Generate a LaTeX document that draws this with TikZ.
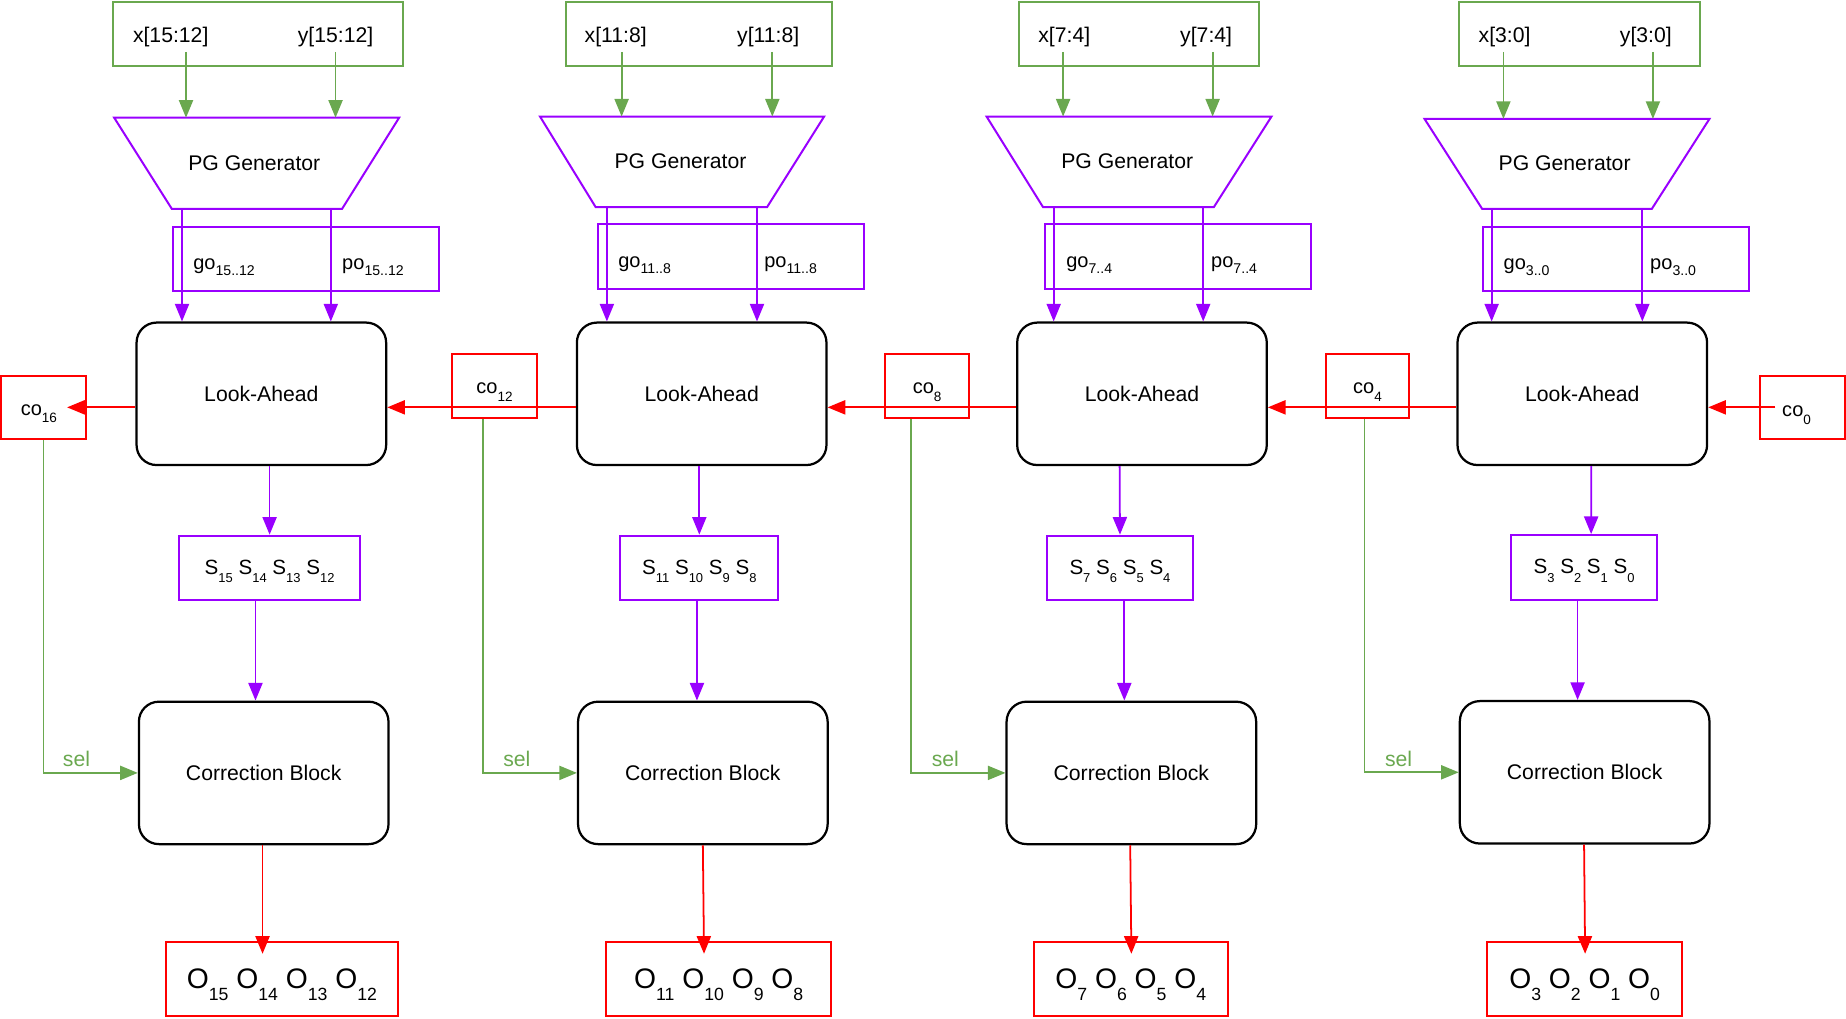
\documentclass[tikz,border=0pt]{standalone}
\usepackage{fontspec}
\setmainfont{Liberation Sans}
\usetikzlibrary{arrows.meta,calc}
\definecolor{grn}{RGB}{106,168,79}
\definecolor{pur}{RGB}{153,0,255}
\definecolor{rd}{RGB}{255,0,0}
\newcommand{\mysub}[3]{\raisebox{-#2pt}{\fontsize{#3}{#3}\selectfont #1}}
\newcommand{\Sv}[1]{S\mysub{#1}{7}{11}}
\newcommand{\Ov}[1]{O\mysub{#1}{9.5}{15}}
\newcommand{\cov}[1]{co\mysub{#1}{6.5}{11.5}}
\newcommand{\gpv}[2]{#1\mysub{#2}{5}{12}}
\begin{document}
\begin{tikzpicture}[x=1pt,y=-1pt,
  every node/.style={font=\fontsize{18}{21}\selectfont, inner sep=0pt},
  inbox/.style={draw=grn, line width=1.6pt, minimum width=#1, minimum height=54pt},
  trap/.style={draw=pur, line width=1.7pt},
  gpbox/.style={draw=pur, line width=1.7pt, minimum width=226pt, minimum height=#1},
  labox/.style={draw=black, line width=1.9pt, rounded corners=17pt, minimum width=212pt, minimum height=121pt, text height=13pt, text depth=0pt},
  sbox/.style={draw=pur, line width=1.7pt, minimum width=#1, minimum height=55pt, text height=11pt, text depth=0pt, font=\fontsize{17.5}{20}\selectfont},
  obox/.style={draw=rd, line width=1.7pt, minimum width=#1, minimum height=63pt, text height=17pt, text depth=0pt, font=\fontsize{24}{28}\selectfont},
  cobox/.style={draw=rd, line width=1.7pt, minimum width=72pt, minimum height=54pt, text height=13pt, text depth=0pt, font=\fontsize{17}{20}\selectfont},
  lbl/.style={anchor=base},
  gplbl/.style={anchor=base west, font=\fontsize{17}{20}\selectfont},
  sellbl/.style={anchor=base, text=grn},
  garr/.style={draw=grn, line width=1.5pt, -{Triangle[length=15pt,width=12pt]}},
  parr/.style={draw=pur, line width=1.5pt, -{Triangle[length=15pt,width=12pt]}},
  rarr/.style={draw=rd, line width=1.5pt, -{Triangle[length=15pt,width=12pt]}}
]
\useasboundingbox (0,0) rectangle (1568,865);

% ---------------- column 1 ----------------
\node[inbox=246pt] (in1) at (219,29) {};
\node[lbl] (xl1) at (145,36) {x[15:12]};
\node[lbl] (yl1) at (285,36) {y[15:12]};
\draw[trap] (97,100) -- (339,100) -- (290.5,177.5) -- (146,177.5) -- cycle;
\coordinate (pg1t) at (218,100);
\coordinate (pg1b) at (218,177.5);
\node[lbl] (pg1) at (216,144.5) {PG Generator};
\node[gpbox=54pt] (gp1) at (260,220) {};
\node[gplbl] (go1) at (164,229) {\gpv{go}{15..12}};
\node[gplbl] (po1) at (290.5,229) {\gpv{po}{15..12}};
\node[labox] (la1) at (222,334.5) {Look-Ahead};
\node[sbox=154pt] (s1) at (229,482.5) {\Sv{15} \Sv{14} \Sv{13} \Sv{12}};
\node[labox] (cb1) at (224,656.5) {Correction Block};
\node[obox=197pt] (o1) at (239.5,831.5) {\Ov{15} \Ov{14} \Ov{13} \Ov{12}};

% ---------------- column 2 ----------------
\node[inbox=226pt] (in2) at (594,29) {};
\node[lbl] (xl2) at (523,36) {x[11:8]};
\node[lbl] (yl2) at (652.5,36) {y[11:8]};
\draw[trap] (458.7,99) -- (700,99) -- (651.5,176) -- (506,176) -- cycle;
\coordinate (pg2t) at (579,99);
\coordinate (pg2b) at (579,176);
\node[lbl] (pg2) at (578,143.5) {PG Generator};
\node[gpbox=55pt] (gp2) at (621,218) {};
\node[gplbl] (go2) at (525,227) {\gpv{go}{11..8}};
\node[gplbl] (po2) at (649,227) {\gpv{po}{11..8}};
\node[labox] (la2) at (596,334.5) {Look-Ahead};
\node[sbox=134pt] (s2) at (594,482.5) {\Sv{11} \Sv{10} \Sv{9} \Sv{8}};
\node[labox] (cb2) at (597,656.5) {Correction Block};
\node[obox=191pt] (o2) at (610.5,831.5) {\Ov{11} \Ov{10} \Ov{9} \Ov{8}};

% ---------------- column 3 ----------------
\node[inbox=204pt] (in3) at (967.5,29) {};
\node[lbl] (xl3) at (904,36) {x[7:4]};
\node[lbl] (yl3) at (1024.5,36) {y[7:4]};
\draw[trap] (838,99) -- (1080,99) -- (1031,176) -- (886,176) -- cycle;
\coordinate (pg3t) at (959,99);
\coordinate (pg3b) at (959,176);
\node[lbl] (pg3) at (957.5,143.5) {PG Generator};
\node[gpbox=55pt] (gp3) at (1000.6,218) {};
\node[gplbl] (go3) at (905.5,227) {\gpv{go}{7..4}};
\node[gplbl] (po3) at (1028.6,227) {\gpv{po}{7..4}};
\node[labox] (la3) at (970,334.5) {Look-Ahead};
\node[sbox=124.6pt] (s3) at (951.3,482.5) {\Sv{7} \Sv{6} \Sv{5} \Sv{4}};
\node[labox] (cb3) at (961,656.5) {Correction Block};
\node[obox=165pt] (o3) at (960.5,831.5) {\Ov{7} \Ov{6} \Ov{5} \Ov{4}};

% ---------------- column 4 ----------------
\node[inbox=205pt] (in4) at (1341.5,29) {};
\node[lbl] (xl4) at (1278,36) {x[3:0]};
\node[lbl] (yl4) at (1398,36) {y[3:0]};
\draw[trap] (1210,101) -- (1452,101) -- (1403,177.5) -- (1259,177.5) -- cycle;
\coordinate (pg4t) at (1331,101);
\coordinate (pg4b) at (1331,177.5);
\node[lbl] (pg4) at (1329,145) {PG Generator};
\node[gpbox=54pt] (gp4) at (1373,220) {};
\node[gplbl] (go4) at (1277,229) {\gpv{go}{3..0}};
\node[gplbl] (po4) at (1401.5,229) {\gpv{po}{3..0}};
\node[labox] (la4) at (1344,334.5) {Look-Ahead};
\node[sbox=124pt] (s4) at (1345.5,482) {\Sv{3} \Sv{2} \Sv{1} \Sv{0}};
\node[labox] (cb4) at (1346,656) {Correction Block};
\node[obox=165.6pt] (o4) at (1346,831.5) {\Ov{3} \Ov{2} \Ov{1} \Ov{0}};

% ---------------- carry boxes ----------------
\node[cobox] (co16) at (37,346) {};
\node[anchor=base, font=\fontsize{17}{20}\selectfont] (co16t) at (33,352.5) {\cov{16}};
\node[cobox] (co12) at (420,328) {\cov{12}};
\node[cobox, minimum width=71pt] (co8) at (787.5,328) {\cov{8}};
\node[cobox, minimum width=71pt] (co4) at (1161.5,328) {\cov{4}};
\node[cobox] (co0) at (1531,346) {};
\node[anchor=base, font=\fontsize{17}{20}\selectfont] (co0t) at (1526,354) {\cov{0}};

% ---------------- green input arrows ----------------
\draw[garr] ($(xl1.base)+(13,8)$) -- ($(pg1t)+(-60,0)$);
\draw[garr] ($(yl1.base)+(0,8)$) -- ($(pg1t)+(67,0)$);
\draw[garr] ($(xl2.base)+(5,8)$) -- ($(pg2t)+(-51,0)$);
\draw[garr] ($(yl2.base)+(3.5,8)$) -- ($(pg2t)+(77,0)$);
\draw[garr] ($(xl3.base)+(-1,8)$) -- ($(pg3t)+(-56,0)$);
\draw[garr] ($(yl3.base)+(5.5,8)$) -- ($(pg3t)+(71,0)$);
\draw[garr] ($(xl4.base)+(-1,8)$) -- ($(pg4t)+(-54,0)$);
\draw[garr] ($(yl4.base)+(6,8)$) -- ($(pg4t)+(73,0)$);

% ---------------- purple arrows ----------------
\draw[parr] ($(pg1b)+(-63.4,0)$) -- ($(la1.north)+(-67.4,0)$);
\draw[parr] ($(pg1b)+(63,0)$) -- ($(la1.north)+(59,0)$);
\draw[parr] ($(pg2b)+(-63.5,0)$) -- ($(la2.north)+(-80.5,0)$);
\draw[parr] ($(pg2b)+(64,0)$) -- ($(la2.north)+(47,0)$);
\draw[parr] ($(pg3b)+(-64,0)$) -- ($(la3.north)+(-75,0)$);
\draw[parr] ($(pg3b)+(63,0)$) -- ($(la3.north)+(52,0)$);
\draw[parr] ($(pg4b)+(-64,0)$) -- ($(la4.north)+(-77,0)$);
\draw[parr] ($(pg4b)+(64,0)$) -- ($(la4.north)+(51,0)$);

\draw[parr] ($(la1.south)+(7,0)$) -- (s1.north);
\draw[parr] ($(s1.south)+(-12,0)$) -- ($(cb1.north)+(-7,0)$);
\draw[parr] ($(la2.south)+(-2,0)$) -- (s2.north);
\draw[parr] ($(s2.south)+(-2,0)$) -- ($(cb2.north)+(-5,0)$);
\draw[parr] ($(la3.south)+(-19,0)$) -- (s3.north);
\draw[parr] ($(s3.south)+(3.7,0)$) -- ($(cb3.north)+(-6,0)$);
\draw[parr] ($(la4.south)+(7.6,0)$) -- ($(s4.north)+(6,0)$);
\draw[parr] ($(s4.south)+(-5.5,0)$) -- ($(cb4.north)+(-6,0)$);

% ---------------- red output arrows ----------------
\draw[rarr] ($(cb1.south)+(-1,0)$) -- ($(o1.north)+(-16.5,11)$);
\draw[rarr] (cb2.south) -- ($(o2.north)+(-12.5,11)$);
\draw[rarr] ($(cb3.south)+(-1,0)$) -- ($(o3.north)+(0.5,11)$);
\draw[rarr] ($(cb4.south)+(-0.5,0)$) -- ($(o4.north)+(0.4,11)$);

% ---------------- carry chain ----------------
\draw[rarr] ($(la1.west)+(0,11.5)$) -- ($(co16.center)+(20,0)$);
\draw[rarr] ($(la2.west)+(0,11.5)$) -- ($(la1.east)+(0,11.5)$);
\draw[rarr] ($(la3.west)+(0,11.5)$) -- ($(la2.east)+(0,11.5)$);
\draw[rarr] ($(la4.west)+(0,11.5)$) -- ($(la3.east)+(0,11.5)$);
\draw[rarr] ($(co0.center)+(-23,0)$) -- ($(la4.east)+(0,11.5)$);

% ---------------- sel lines ----------------
\draw[garr] (co16.south) |- (cb1.west);
\draw[garr] ($(co12.south)+(-10,0)$) |- (cb2.west);
\draw[garr] ($(co8.south)+(-13.5,0)$) |- (cb3.west);
\draw[garr] ($(co4.south)+(-2.5,0)$) |- (cb4.west);
\node[sellbl] (sel1) at (65,651) {sel};
\node[sellbl] (sel2) at (439,651) {sel};
\node[sellbl] (sel3) at (803,651) {sel};
\node[sellbl] (sel4) at (1188,651) {sel};
\end{tikzpicture}
\end{document}
